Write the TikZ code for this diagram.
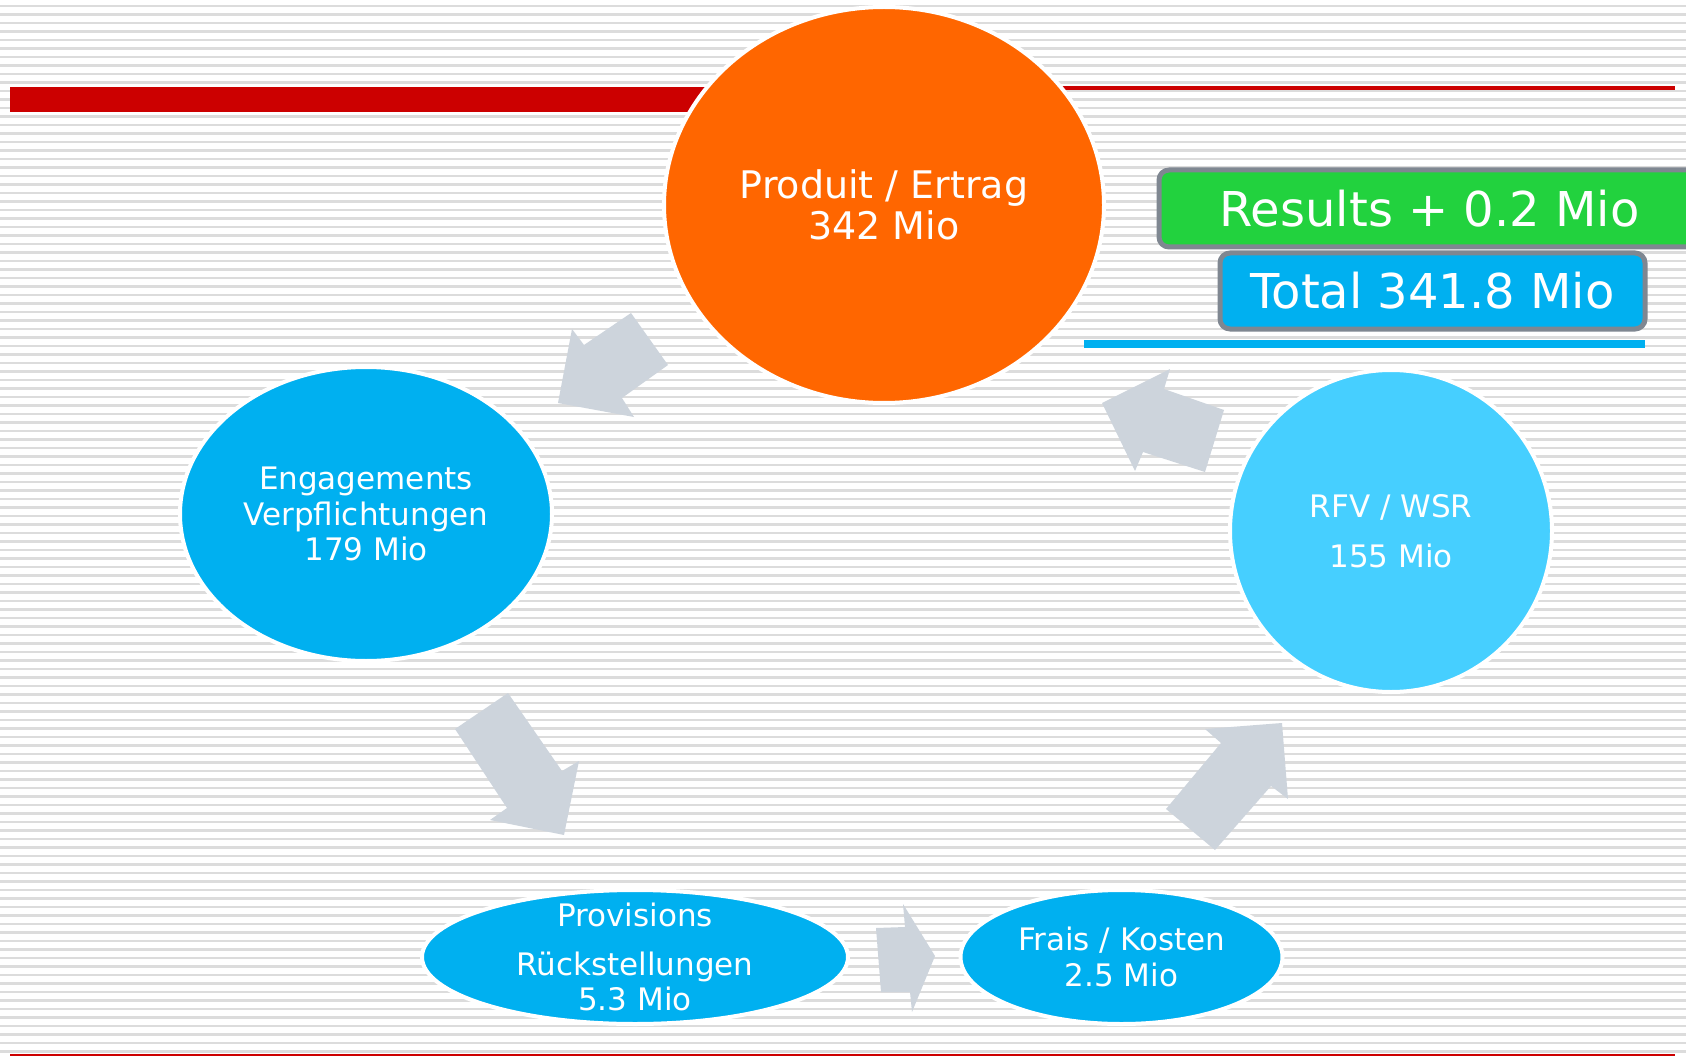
\documentclass[tikz,border=0pt]{standalone}
\usepackage{fontspec}
\setmainfont{DejaVu Sans}
\usetikzlibrary{shapes.geometric}
\definecolor{stripe}{RGB}{220,220,220}
\definecolor{redbar}{RGB}{204,0,0}
\definecolor{orangeF}{RGB}{255,102,0}
\definecolor{blueF}{RGB}{0,176,240}
\definecolor{lblueF}{RGB}{70,207,255}
\definecolor{greenF}{RGB}{34,210,62}
\definecolor{boxborder}{RGB}{127,135,145}
\definecolor{arrowF}{RGB}{205,212,220}
\begin{document}
\begin{tikzpicture}[x=1pt,y=-1pt,
  bubble/.style={ellipse, draw=white, line width=4pt, text=white, inner sep=0pt, align=center},
  bubbletext/.style={text=white, inner sep=0pt, align=center},
  valbox/.style={draw=boxborder, line width=5pt, rounded corners=10pt, text=white, inner sep=0pt, font=\fontsize{48}{52}\selectfont},
  blockarrow/.style={fill=arrowF}]
\useasboundingbox (0,0) rectangle (1686,1059);
\fill[white] (0,0) rectangle (1686,1059);
\foreach \k in {0,...,123} \draw[stripe, line width=2.5pt] (0,6+\k*8.5) -- (1686,6+\k*8.5);
% red bars
\fill[redbar] (10,87) rectangle (900,112);
\fill[redbar] (900,86.5) rectangle (1675,90);
\draw[redbar, line width=1.5pt] (10,1055) -- (1675,1055);
% top ellipse
\node[bubble, fill=orangeF, minimum width=440pt, minimum height=396pt, font=\fontsize{38}{41}\selectfont] (prod) at (884,205) {Produit / Ertrag\\342 Mio};
% boxes
\node[valbox, fill=greenF, minimum width=541pt, minimum height=77pt] (res) at (1429.5,208.5) {Results + 0.2 Mio};
\node[valbox, fill=blueF, minimum width=425pt, minimum height=76pt] (tot) at (1432.5,291) {Total 341.8 Mio};
\fill[blueF] (1084,340) rectangle (1645,347.5);
% other ellipses
\node[bubble, fill=blueF, minimum width=372pt, minimum height=294pt, font=\fontsize{31}{35.5}\selectfont] (eng) at (366,514) {Engagements\\Verpflichtungen\\179 Mio};
\node[bubble, fill=lblueF, minimum width=322pt, minimum height=322pt, font=\fontsize{31}{50}\selectfont] (rfv) at (1391,531) {RFV / WSR\\155 Mio};
\node[bubble, fill=blueF, minimum width=426pt, minimum height=134pt] (prov) at (635,957) {};
\node[bubbletext, font=\fontsize{31}{35.5}\selectfont] (provtext) at (prov.center) {Provisions\\[13pt]Rückstellungen\\5.3 Mio};
\node[bubble, fill=blueF, minimum width=322pt, minimum height=134pt, font=\fontsize{31}{35.5}\selectfont] (frais) at (1121.5,957) {Frais / Kosten\\2.5 Mio};
% block arrows
\fill[blockarrow] (631,313) -- (668,365) -- (622,398) -- (634,417) -- (558,403) -- (572,329) -- (584,345) -- cycle;
\fill[blockarrow] (508,693) -- (455,729) -- (507,808) -- (490,820) -- (564,835) -- (579,761) -- (562,771) -- cycle;
\fill[blockarrow] (905,927) -- (903,904) -- (935,956) -- (912,1012) -- (910,992) -- (881,992) -- (876,928) -- cycle;
\fill[blockarrow] (1215,850) -- (1166,809) -- (1221,743) -- (1205,729) -- (1282,723) -- (1288,799) -- (1271,786) -- cycle;
\fill[blockarrow] (1170,369) -- (1164,389) -- (1224,410) -- (1205,472) -- (1143,452) -- (1135,471) -- (1102,403) -- cycle;
\end{tikzpicture}
\end{document}
